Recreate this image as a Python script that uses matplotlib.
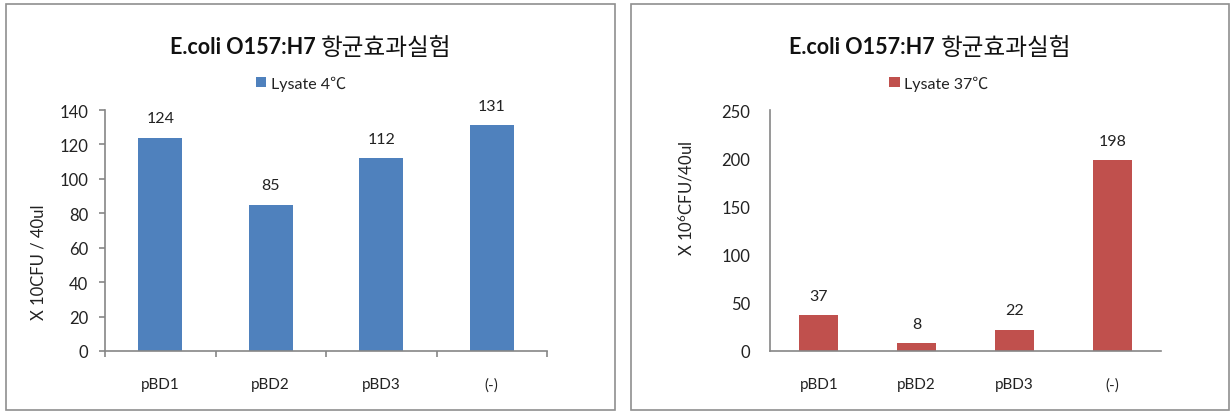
import matplotlib
matplotlib.use("Agg")
import matplotlib.pyplot as plt
from matplotlib.patches import Rectangle, Patch

plt.rcParams['font.family'] = ['Lato', 'Noto Sans CJK KR', 'DejaVu Sans']

categories = ['pBD1', 'pBD2', 'pBD3', '(-)']
lysate_4c = [124, 85, 112, 131]
lysate_37c = [37, 8, 22, 198]
title_latin = "E.coli O157:H7 "
title_korean = "항균효과실험"
legend_4c = "Lysate 4℃"
legend_37c = "Lysate 37℃"
ylabel_left = "X 10CFU / 40ul"
ylabel_right = "X 10$^6$CFU/40ul"

W, H = 1230, 414
fig = plt.figure(figsize=(W / 100, H / 100), dpi=100)
fig.patch.set_facecolor('white')
plt.rcParams['mathtext.fontset'] = 'custom'
plt.rcParams['mathtext.rm'] = 'Lato'
plt.rcParams['mathtext.it'] = 'Lato:italic'
plt.rcParams['mathtext.bf'] = 'Lato:bold'
plt.rcParams['mathtext.default'] = 'rm'

def fx(px):
    return px / W

def fy(py):
    return 1 - py / H

# panel frames
for x0, x1 in [(6, 615), (631, 1229)]:
    fig.add_artist(Rectangle((fx(x0), fy(411)), fx(x1 - x0), (411 - 5) / H,
                             transform=fig.transFigure, fill=False,
                             edgecolor='#8f8f8f', lw=1.2))

axis_col = '#868686'
blue = '#4F81BD'
red = '#C0504D'

def make_panel(left_px, right_px, values, color, ymax, ystep, ticks_out,
               ylabel, ylab_x, ylab_y, legend_text, leg_x, title_cx, tick_pad):
    ax = fig.add_axes([fx(left_px), fy(352), fx(right_px - left_px), (352 - 111) / H])
    x = list(range(len(categories)))
    ax.bar(x, values, width=0.4, color=color, zorder=2)
    ax.set_xlim(-0.5, len(categories) - 0.5)
    ax.set_ylim(0, ymax)
    ax.set_yticks(list(range(0, ymax + 1, ystep)))
    ax.set_xticks(x)
    ax.set_xticklabels(categories)
    for s in ['top', 'right']:
        ax.spines[s].set_visible(False)
    for s in ['left', 'bottom']:
        ax.spines[s].set_color(axis_col)
        ax.spines[s].set_linewidth(1.2)
    ax.tick_params(axis='x', length=0, pad=19, labelsize=11, colors='#222222')
    if ticks_out:
        ax.tick_params(axis='y', length=4, width=1.2, color=axis_col, pad=tick_pad,
                       labelsize=12, labelcolor='#222222')
        ax.set_xticks([i - 0.5 for i in range(len(categories) + 1)], minor=True)
        ax.tick_params(axis='x', which='minor', length=4, width=1.2, color=axis_col)
    else:
        ax.tick_params(axis='y', length=0, pad=tick_pad, labelsize=12,
                       labelcolor='#222222')
    for xi, v in zip(x, values):
        ax.annotate(str(v), (xi, v), xytext=(0, 14), textcoords='offset points',
                    ha='center', va='center', fontsize=11.5, color='#222222')
    fig.text(fx(ylab_x), fy(ylab_y), ylabel, rotation=90, ha='center', va='center',
             fontsize=12, color='#222222')
    ax.legend(handles=[Patch(facecolor=color, label=legend_text)],
              loc='center', bbox_to_anchor=(fx(leg_x), fy(84)),
              bbox_transform=fig.transFigure, frameon=False, fontsize=11.5,
              handlelength=0.65, handleheight=0.65, handletextpad=0.3,
              borderpad=0, labelcolor='#222222')
    # title: bold latin + regular korean, centred together
    t1 = fig.text(0, fy(48), title_latin, fontsize=15.5, fontweight='bold',
                  ha='left', va='center', color='#111111')
    t2 = fig.text(0, fy(48), title_korean, fontsize=17, ha='left', va='center',
                  color='#111111')
    r = fig.canvas.get_renderer()
    w1 = t1.get_window_extent(r).width
    w2 = t2.get_window_extent(r).width
    start = title_cx - (w1 + w2) / 2
    t1.set_x(fx(start))
    t2.set_x(fx(start + w1))
    return ax

make_panel(105, 547, lysate_4c, blue, 140, 20, True, ylabel_left, 38, 262,
           legend_4c, 301, 311, 8)
make_panel(770, 1161, lysate_37c, red, 250, 50, False, ylabel_right, 686, 198,
           legend_37c, 939, 930, 14)

fig.savefig('out.png', dpi=100)
